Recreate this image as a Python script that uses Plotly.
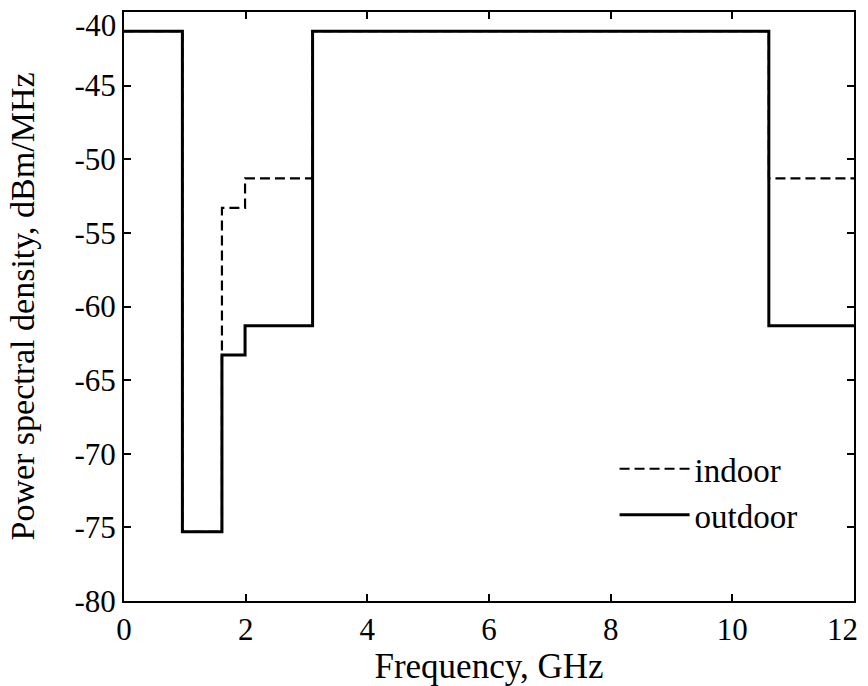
import plotly.graph_objects as go

freq_edges = [0, 0.96, 1.61, 1.99, 3.1, 10.6, 12]
indoor_psd = [-41.3, -75.3, -53.3, -51.3, -41.3, -51.3, -51.3]
outdoor_psd = [-41.3, -75.3, -63.3, -61.3, -41.3, -61.3, -61.3]
x_ticks = [0, 2, 4, 6, 8, 10, 12]
y_ticks = [-80, -75, -70, -65, -60, -55, -50, -45, -40]

font_family = "Liberation Serif, Times New Roman, serif"
tick_size = 31
title_size = 35

fig = go.Figure()
fig.add_trace(go.Scatter(x=freq_edges, y=indoor_psd, mode="lines", name="indoor",
                         line=dict(color="black", width=2.2, dash="10px,5px", shape="hv"),
                         legendgroup="a"))
fig.add_trace(go.Scatter(x=freq_edges, y=outdoor_psd, mode="lines", name="outdoor",
                         line=dict(color="black", width=3, shape="hv"),
                         legendgroup="b"))

axis_common = dict(showgrid=False, zeroline=False, showline=True, linecolor="black",
                   linewidth=2, mirror="allticks", ticks="inside", ticklen=7,
                   tickwidth=2, tickcolor="black",
                   ticklabeloverflow="allow",
                   tickfont=dict(family=font_family, size=tick_size, color="black"))

# the last x label is drawn as an annotation, right-aligned, so it stays inside the page
x_text = [str(v) for v in x_ticks]
x_text[-1] = ""
fig.update_xaxes(range=[0, 12], tickvals=x_ticks, ticktext=x_text, automargin=False,
                 title=dict(text="Frequency, GHz",
                            font=dict(family=font_family, size=title_size, color="black")),
                 **axis_common)

# top y label is drawn slightly lower (see annotation) so it fits the page
y_text = [str(v) for v in y_ticks]
y_text[-1] = ""
fig.update_yaxes(range=[-80, -40], tickvals=y_ticks, ticktext=y_text, automargin=True,
                 title=dict(text="Power spectral density, dBm/MHz", standoff=30,
                            font=dict(family=font_family, size=34, color="black")),
                 **axis_common)

fig.add_annotation(x=0, xref="paper", y=y_ticks[-1], yref="y", text=str(y_ticks[-1]),
                   showarrow=False, xanchor="right", yanchor="middle", xshift=-6, yshift=-13,
                   font=dict(family=font_family, size=tick_size, color="black"))
fig.add_annotation(x=x_ticks[-1], xref="x", y=0, yref="paper", text=str(x_ticks[-1]),
                   showarrow=False, xanchor="right", yanchor="middle", xshift=6, yshift=-28,
                   font=dict(family=font_family, size=tick_size, color="black"))

fig.update_layout(
    width=868, height=686,
    margin=dict(l=124, r=12, t=12, b=85),
    paper_bgcolor="white", plot_bgcolor="white",
    legend=dict(x=0.672, y=0.272, xanchor="left", yanchor="top",
                font=dict(family=font_family, size=33, color="black"),
                bgcolor="rgba(0,0,0,0)", tracegroupgap=0, itemwidth=70),
    showlegend=True,
)

fig.write_html("out.html")
